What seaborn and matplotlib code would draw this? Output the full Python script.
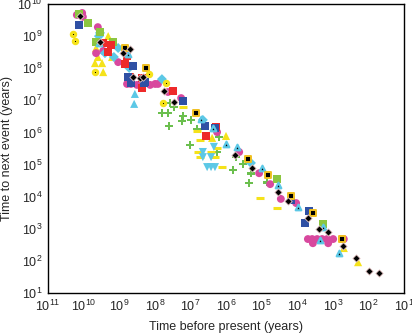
import numpy as np
import pandas as pd
import matplotlib
matplotlib.use("Agg")
import matplotlib.pyplot as plt
import seaborn as sns
from matplotlib.ticker import LogLocator, FixedLocator, NullFormatter

sns.set_style("white")
plt.rcParams['font.family'] = ['Liberation Sans', 'DejaVu Sans']

# log10 of (time before present, time to next event)
black_diamond_x = [10.10, 9.54, 8.89, 8.70, 8.61, 8.42, 8.33, 7.74, 7.46, 5.75, 5.27, 4.54, 4.26, 3.70, 3.39, 3.13, 2.71, 2.35, 1.98, 1.70]
black_diamond_y = [9.63, 8.82, 8.47, 8.60, 7.73, 7.69, 7.73, 7.29, 6.95, 5.30, 4.89, 4.14, 3.86, 3.33, 2.99, 2.90, 2.46, 2.09, 1.68, 1.62]

red_square_x = [9.45, 9.23, 9.31, 8.84, 8.78, 8.70, 8.36, 8.36, 7.49, 6.56, 6.28]
red_square_y = [8.79, 8.72, 8.50, 8.13, 8.38, 7.73, 7.69, 7.38, 7.29, 5.89, 6.17]

blue_square_x = [10.13, 8.75, 8.67, 8.61, 8.30, 8.28, 7.21, 6.59, 6.31, 4.17, 3.67, 3.78]
blue_square_y = [9.35, 7.73, 7.54, 8.07, 7.54, 7.57, 6.98, 6.20, 6.14, 3.89, 3.55, 3.18]

lime_square_x = [10.13, 9.88, 9.65, 9.17, 9.54, 4.57, 3.28]
lime_square_y = [9.69, 9.41, 8.82, 8.82, 9.13, 4.55, 3.15]

magenta_circle_x = [10.19, 10.04, 10.02, 9.60, 9.65, 9.45, 9.03, 8.78, 8.67, 8.50, 8.33, 8.13, 7.99, 7.91,
                    7.63, 7.26, 6.25, 5.63, 5.07, 4.76, 4.46, 4.03, 3.70, 3.58, 3.44, 3.30, 3.16, 2.99,
                    3.56, 3.13, 2.69]
magenta_circle_y = [9.66, 9.72, 9.60, 9.28, 8.47, 8.54, 8.19, 7.51, 7.51, 7.48, 7.51, 7.48, 7.51, 7.51,
                    7.26, 7.07, 6.01, 5.39, 4.73, 4.39, 3.93, 3.80, 2.68, 2.68, 2.68, 2.68, 2.68, 2.68,
                    2.55, 2.55, 2.68]

cyan_diamond_x = [9.54, 9.57, 9.40, 9.15, 9.03, 8.72, 7.80, 6.65, 5.30]
cyan_diamond_y = [9.10, 9.00, 8.47, 8.35, 8.63, 8.01, 7.66, 6.39, 5.05]

cyan_triangle_x = [8.56, 8.58]
cyan_triangle_y = [7.20, 6.89]

cyan_dot_triangle_x = [9.57, 8.75, 6.70, 6.37, 6.00, 5.69, 4.99, 4.54, 3.98, 3.28, 3.36, 2.83]
cyan_dot_triangle_y = [8.79, 8.44, 6.42, 6.14, 5.64, 5.55, 4.89, 4.36, 3.68, 3.05, 2.65, 2.24]

cyan_down_x = [6.65, 6.34, 6.65, 6.42, 6.53, 6.42, 6.31]
cyan_down_y = [5.39, 5.55, 5.23, 5.23, 4.92, 4.92, 4.92]

yellow_triangle_x = [9.31, 9.65, 9.68, 9.48, 9.20, 9.45, 9.60, 6.39, 6.00, 2.69, 2.29]
yellow_triangle_y = [9.00, 8.63, 8.16, 8.16, 8.35, 7.88, 8.35, 5.83, 5.89, 2.40, 1.96]

yellow_dash_x = [7.21, 6.81, 6.73, 6.79, 6.73, 6.42, 6.25, 6.31, 6.11, 5.04, 4.57]
yellow_dash_y = [6.79, 6.04, 5.76, 5.39, 5.23, 5.39, 5.51, 5.23, 4.92, 3.96, 3.64]

green_plus_x = [7.80, 7.63, 7.60, 7.57, 7.46, 7.24, 7.21, 6.98, 6.81, 7.01, 6.25, 6.20, 5.72, 5.80, 5.52, 5.30, 5.35, 4.85]
green_plus_y = [6.60, 6.60, 6.20, 6.92, 6.79, 6.36, 6.51, 6.39, 6.11, 5.61, 5.39, 5.86, 5.23, 4.83, 5.02, 4.73, 4.42, 4.45]

black_square_x = [8.84, 8.25, 6.84, 5.38, 4.82, 4.17, 3.56, 2.74]
black_square_y = [8.63, 8.01, 6.60, 5.17, 4.67, 4.02, 3.49, 2.68]

yellow_dot_circle_x = [10.30, 10.24, 9.68, 8.16, 7.69, 7.77]
yellow_dot_circle_y = [9.07, 8.85, 7.88, 7.82, 7.54, 6.92]

MAGENTA = "#d8489e"
RED = "#ee2a2a"
BLUE = "#2f50a4"
LIME = "#8cc63f"
CYAN = "#5cc8e6"
YELLOW = "#f5e21a"
GREEN = "#6bbf4e"

fig = plt.figure(figsize=(4.12, 3.34), dpi=100)
ax = fig.add_axes([0.1165, 0.1228, 0.8641, 0.8652])


def draw(xs, ys, marker, color, s, ec="none", lw=0.0, z=2):
    df = pd.DataFrame({"t": 10.0 ** np.array(xs), "dt": 10.0 ** np.array(ys)})
    sns.scatterplot(data=df, x="t", y="dt", marker=marker, color=color, s=s,
                    edgecolor=ec, linewidth=lw, ax=ax, zorder=z, legend=False)


draw(green_plus_x, green_plus_y, "P", GREEN, 32, z=2)
draw(yellow_dash_x, yellow_dash_y, "_", YELLOW, 40, ec=YELLOW, lw=2.2, z=2)
draw(cyan_down_x, cyan_down_y, "v", CYAN, 34, z=3)
draw(yellow_triangle_x, yellow_triangle_y, "^", YELLOW, 34, z=3)
draw(magenta_circle_x, magenta_circle_y, "o", MAGENTA, 32, z=3)
draw(cyan_diamond_x, cyan_diamond_y, "D", CYAN, 26, z=3)
draw(cyan_triangle_x, cyan_triangle_y, "^", CYAN, 34, z=3)
draw(lime_square_x, lime_square_y, "s", LIME, 34, z=4)
draw(red_square_x, red_square_y, "s", RED, 34, z=4)
draw(blue_square_x, blue_square_y, "s", BLUE, 34, z=4)
draw(cyan_dot_triangle_x, cyan_dot_triangle_y, "^", "black", 16, ec=CYAN, lw=1.6, z=5)
draw(black_square_x, black_square_y, "s", "black", 24, ec="#f0c020", lw=1.4, z=5)
draw(yellow_dot_circle_x, yellow_dot_circle_y, "o", "black", 10, ec=YELLOW, lw=2.2, z=5)
draw(black_diamond_x, black_diamond_y, "D", "black", 14, ec="#e8c8c8", lw=0.6, z=6)

ax.set_xscale("log")
ax.set_yscale("log")
ax.set_xlim(1e11, 1e1)
ax.set_ylim(1e1, 1e10)

ax.xaxis.set_major_locator(FixedLocator([10.0 ** k for k in range(1, 12)]))
ax.yaxis.set_major_locator(FixedLocator([10.0 ** k for k in range(1, 11)]))
ax.xaxis.set_minor_locator(LogLocator(base=10, subs=np.arange(2, 10), numticks=20))
ax.yaxis.set_minor_locator(LogLocator(base=10, subs=np.arange(2, 10), numticks=20))
ax.xaxis.set_minor_formatter(NullFormatter())
ax.yaxis.set_minor_formatter(NullFormatter())
ax.tick_params(axis="both", which="major", labelsize=9, length=2.5, width=0.6,
               color="#e0a8a8", direction="in", pad=4)
ax.tick_params(axis="both", which="minor", length=1.2, width=0.5, color="#ecc4c4", direction="in")

for sp in ax.spines.values():
    sp.set_visible(True)
    sp.set_color("black")
    sp.set_linewidth(1.0)

ax.set_xlabel("Time before present (years)", fontsize=9, labelpad=5)
ax.set_ylabel("Time to next event (years)", fontsize=9, labelpad=3)
ax.grid(False)

fig.savefig("out.png", dpi=100)
